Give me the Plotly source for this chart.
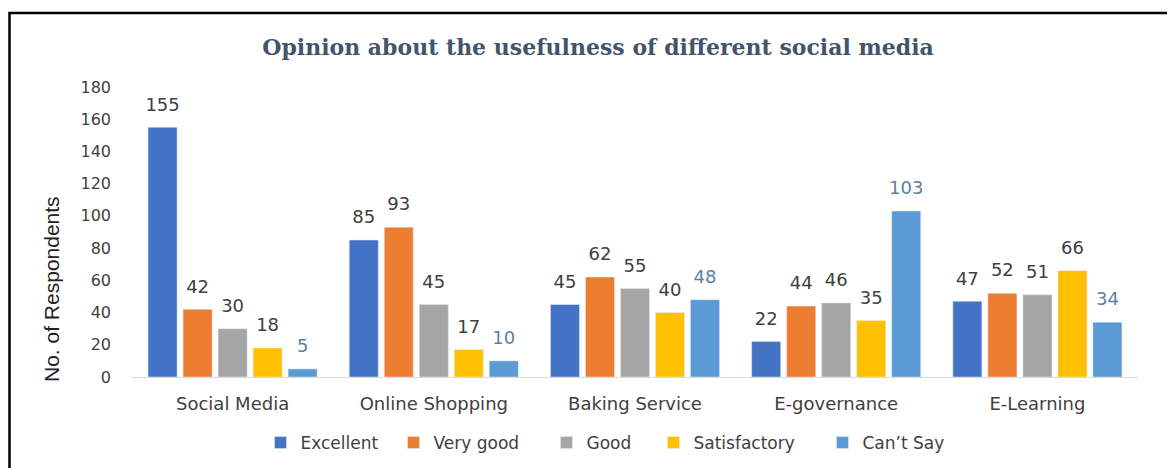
import plotly.graph_objects as go

categories = ["Social Media", "Online Shopping", "Baking Service", "E-governance", "E-Learning"]
series_names = ["Excellent", "Very good", "Good", "Satisfactory", "Can\u2019t Say"]
excellent = [155, 85, 45, 22, 47]
very_good = [42, 93, 62, 44, 52]
good = [30, 45, 55, 46, 51]
satisfactory = [18, 17, 40, 35, 66]
cant_say = [5, 10, 48, 103, 34]
y_ticks = [0, 20, 40, 60, 80, 100, 120, 140, 160, 180]

values = [excellent, very_good, good, satisfactory, cant_say]
colors = ["#4472C4", "#ED7D31", "#A5A5A5", "#FFC000", "#5B9BD5"]
label_colors = ["#404040", "#404040", "#404040", "#404040", "#5A7FA3"]
legend_widths = [88, 108, 62, 124, 84]

SANS = "DejaVu Sans, Verdana, sans-serif"

fig = go.Figure()
for name, vals, c, lw in zip(series_names, values, colors, legend_widths):
    fig.add_trace(go.Bar(x=categories, y=vals, name=name, marker_color=c, legendwidth=lw))

# value labels: text-only scatter traces grouped like the bars
for name, vals, lc in zip(series_names, values, label_colors):
    fig.add_trace(go.Scatter(
        x=categories, y=vals, mode="markers+text", showlegend=False, hoverinfo="skip",
        text=[str(v) for v in vals], textposition="top center",
        marker=dict(size=18, color="rgba(0,0,0,0)"),
        textfont=dict(family=SANS, size=18, color=lc),
        cliponaxis=False,
    ))

# left/top margins compensate the 8px page margin of the html body
L, T, R, B = 124, 79, 45, 99
PW, PH = 1175 - L - R, 468 - T - B

fig.update_layout(
    width=1175, height=468,
    margin=dict(l=L, r=R, t=T, b=B),
    paper_bgcolor="white", plot_bgcolor="white",
    barmode="group", bargap=0.13, bargroupgap=0.17,
    scattermode="group", scattergap=0.13,
    title=dict(text="<b>Opinion about the usefulness of different social media</b>",
               x=(598 - 8) / 1175, xanchor="center", y=1 - 39 / 468, yanchor="middle",
               font=dict(family="DejaVu Serif, serif", size=22, color="#44546A")),
    legend=dict(orientation="h", x=(598 - L) / PW, xanchor="center", y=(PH - 435 + T) / PH, yanchor="middle",
                font=dict(family=SANS, size=17, color="#404040"),
                itemwidth=30, traceorder="normal"),
    showlegend=True,
)
fig.update_xaxes(showgrid=False, showline=True, linecolor="#D9D9D9", linewidth=1,
                 tickfont=dict(family=SANS, size=18, color="#404040"),
                 ticks="", ticklabelstandoff=10)
fig.update_yaxes(range=[0, 180], tickvals=y_ticks, showgrid=False, zeroline=False,
                 showline=False, ticks="", ticklabelstandoff=20,
                 tickfont=dict(family=SANS, size=16, color="#404040"))

fig.add_annotation(text="No. of Respondents", textangle=-90, showarrow=False,
                   xref="paper", yref="paper", x=(43 - L) / PW, y=(T + PH - 281) / PH,
                   xanchor="center", yanchor="middle",
                   font=dict(family="Liberation Sans, Arial, sans-serif", size=21, color="#222222"))

fig.add_shape(type="rect", xref="paper", yref="paper",
              x0=(1.5 - L) / PW, x1=1.2, y0=-0.6, y1=(T + PH - 5) / PH,
              line=dict(color="black", width=2.5), fillcolor="rgba(0,0,0,0)", layer="above")

fig.write_html("out.html")
